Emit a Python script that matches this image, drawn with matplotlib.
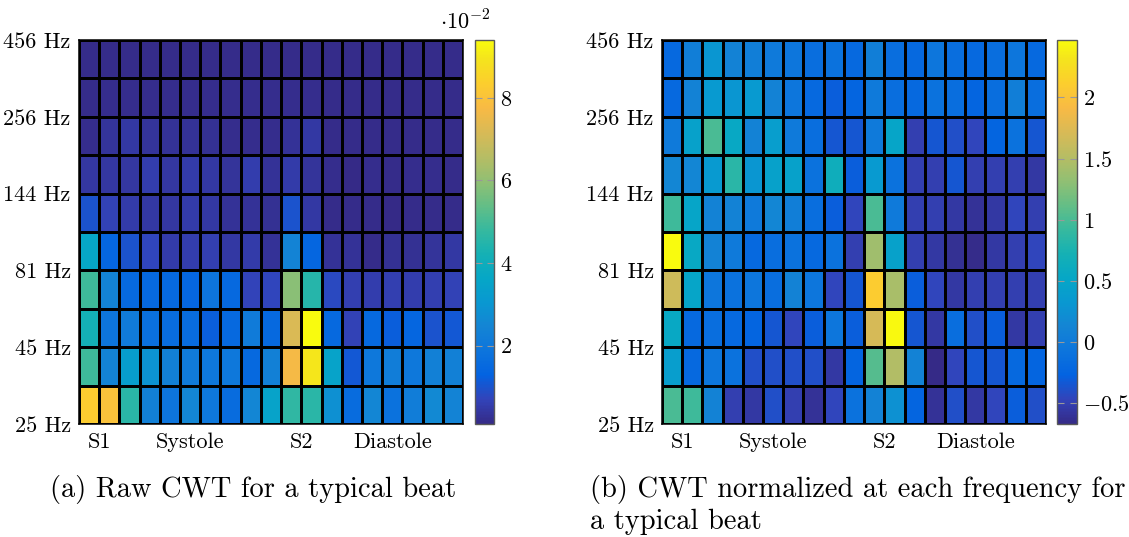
import numpy as np
import matplotlib
matplotlib.use('Agg')
import matplotlib.pyplot as plt
from matplotlib.colors import LinearSegmentedColormap

# data: rows listed from top (456 Hz) to bottom (25 Hz), 19 time bins each
freq_labels = ['25 Hz', '45 Hz', '81 Hz', '144 Hz', '256 Hz', '456 Hz']
phase_labels = ['S1', 'Systole', 'S2', 'Diastole']
phase_pos = [1, 5.5, 11, 15.5]

# raw CWT, units of 1e-2
raw_cwt = [
    [0.15, 0.15, 0.15, 0.15, 0.15, 0.15, 0.15, 0.15, 0.15, 0.15, 0.15, 0.15, 0.15, 0.15, 0.15, 0.15, 0.15, 0.15, 0.15],
    [0.15, 0.2, 0.2, 0.2, 0.2, 0.2, 0.2, 0.2, 0.2, 0.2, 0.2, 0.2, 0.15, 0.15, 0.15, 0.15, 0.15, 0.15, 0.15],
    [0.2, 0.35, 0.45, 0.35, 0.3, 0.3, 0.25, 0.2, 0.2, 0.2, 0.3, 0.45, 0.15, 0.15, 0.15, 0.15, 0.15, 0.15, 0.15],
    [0.4, 0.4, 0.4, 0.55, 0.4, 0.5, 0.45, 0.35, 0.55, 0.3, 0.5, 0.35, 0.2, 0.1, 0.2, 0.15, 0.2, 0.2, 0.15],
    [1.0, 0.65, 0.5, 0.45, 0.4, 0.5, 0.45, 0.3, 0.3, 0.25, 1.0, 0.45, 0.15, 0.15, 0.15, 0.1, 0.15, 0.15, 0.15],
    [3.6, 1.4, 1.0, 0.75, 0.5, 0.55, 0.6, 0.45, 0.5, 0.3, 2.4, 1.4, 0.3, 0.3, 0.15, 0.25, 0.25, 0.35, 0.45],
    [4.9, 2.4, 1.5, 1.5, 1.5, 1.4, 1.9, 1.5, 0.7, 0.75, 5.9, 4.5, 0.8, 0.6, 0.55, 0.6, 0.55, 0.6, 0.65],
    [4.2, 1.9, 2.1, 1.7, 1.6, 1.6, 1.2, 1.5, 2.1, 1.5, 7.2, 9.4, 1.5, 0.65, 1.5, 1.2, 1.4, 1.0, 1.1],
    [4.9, 2.4, 3.3, 2.9, 2.3, 2.1, 2.0, 2.0, 1.5, 2.3, 7.7, 9.0, 3.5, 1.1, 2.0, 2.2, 2.0, 2.3, 2.3],
    [8.3, 8.0, 4.6, 2.3, 1.9, 2.5, 2.0, 1.6, 2.5, 3.5, 4.7, 4.6, 2.8, 1.6, 2.5, 1.8, 2.2, 2.6, 2.4],
]

# CWT normalized per frequency
norm_cwt = [
    [-0.2, 0.05, 0.3, 0.1, 0.05, 0.0, -0.05, -0.15, -0.1, -0.2, 0.05, -0.15, -0.2, -0.05, -0.15, -0.2, -0.15, -0.05, -0.2],
    [-0.2, 0.1, 0.35, 0.3, 0.35, 0.1, -0.05, -0.2, -0.3, -0.25, 0.0, -0.15, -0.2, -0.1, -0.15, -0.25, -0.15, 0.05, -0.15],
    [0.0, 0.45, 1.0, 0.55, 0.1, 0.4, 0.0, -0.15, -0.35, -0.35, 0.0, 0.5, -0.5, -0.35, -0.4, -0.45, -0.25, -0.1, -0.35],
    [0.15, 0.15, 0.35, 0.85, 0.3, 0.45, 0.45, -0.1, 0.65, -0.3, 0.35, -0.1, -0.5, -0.5, -0.35, -0.5, -0.5, -0.5, -0.55],
    [0.95, 0.5, 0.1, 0.1, 0.0, 0.15, 0.05, -0.15, -0.3, -0.45, 1.0, 0.0, -0.5, -0.5, -0.55, -0.6, -0.55, -0.45, -0.5],
    [2.47, 0.55, 0.1, 0.0, -0.2, -0.15, -0.1, -0.2, -0.1, -0.5, 1.4, 0.45, -0.5, -0.55, -0.62, -0.65, -0.55, -0.5, -0.45],
    [1.65, 0.5, -0.05, -0.1, -0.05, -0.15, 0.1, -0.05, -0.45, -0.35, 2.1, 1.45, -0.3, -0.45, -0.55, -0.5, -0.5, -0.5, -0.5],
    [0.55, -0.2, -0.15, -0.2, -0.25, -0.35, -0.45, -0.3, -0.05, -0.3, 1.7, 2.45, -0.35, -0.55, -0.15, -0.4, -0.3, -0.55, -0.5],
    [0.4, -0.2, -0.05, -0.1, -0.4, -0.4, -0.4, -0.4, -0.55, -0.25, 1.05, 1.5, 0.1, -0.67, -0.45, -0.35, -0.35, -0.2, -0.25],
    [1.0, 0.95, 0.1, -0.5, -0.55, -0.4, -0.5, -0.6, -0.45, -0.1, 0.1, 0.25, -0.25, -0.6, -0.4, -0.55, -0.45, -0.3, -0.4],
]

# parula-like colormap
parula_pts = [
    (0.2081, 0.1663, 0.5292), (0.1959, 0.2645, 0.7279), (0.0117, 0.3875, 0.8820),
    (0.0498, 0.4586, 0.8641), (0.0793, 0.5200, 0.8312), (0.0343, 0.5966, 0.8199),
    (0.0228, 0.6535, 0.7768), (0.0843, 0.6928, 0.7062), (0.2178, 0.7250, 0.6193),
    (0.3953, 0.7459, 0.5244), (0.5709, 0.7485, 0.4494), (0.7184, 0.7411, 0.3905),
    (0.8507, 0.7299, 0.3360), (0.9739, 0.7314, 0.2666), (0.9880, 0.8066, 0.1794),
    (0.9589, 0.8949, 0.1132), (0.9763, 0.9831, 0.0538),
]
idx = [0, 4, 8, 12, 16, 20, 24, 28, 32, 36, 40, 44, 48, 52, 56, 60, 63]
parula = LinearSegmentedColormap.from_list('parula', [(i / 63, c) for i, c in zip(idx, parula_pts)])

plt.rcParams['font.family'] = 'cmr10'
plt.rcParams['mathtext.fontset'] = 'cm'
plt.rcParams['axes.unicode_minus'] = False

W, H = 1129, 537
fig = plt.figure(figsize=(W / 100, H / 100), dpi=100)


def px_axes(x0, y0, x1, y1):
    return fig.add_axes([x0 / W, 1 - y1 / H, (x1 - x0) / W, (y1 - y0) / H])


def draw_map(ax, cax, data, ticks, ticklabels):
    z = np.array(data)[::-1]
    m = ax.pcolormesh(np.arange(20), np.arange(11), z, cmap=parula,
                      vmin=z.min(), vmax=z.max(), edgecolors='k', linewidth=0.75)
    ax.set_xlim(0, 19)
    ax.set_ylim(0, 10)
    ax.set_yticks([0, 2, 4, 6, 8, 10])
    ax.set_yticklabels(freq_labels)
    ax.set_xticks(phase_pos)
    ax.set_xticklabels(phase_labels)
    ax.tick_params(length=0, labelsize=16, pad=6)
    for s in ax.spines.values():
        s.set_linewidth(1.1)
    cb = fig.colorbar(m, cax=cax)
    cb.set_ticks(ticks)
    cb.set_ticklabels(ticklabels)
    cb.outline.set_edgecolor('0.35')
    cb.outline.set_linewidth(1.0)
    cax.tick_params(direction='in', length=5, width=0.8, color='0.6',
                    left=True, right=True, labelsize=16, pad=4)
    return m


ax1 = px_axes(79, 40, 463, 424)
cax1 = px_axes(475, 40, 494, 424)
draw_map(ax1, cax1, raw_cwt, [2, 4, 6, 8], ['$2$', '$4$', '$6$', '$8$'])
fig.text(465 / W, 1 - 21 / H, r'$\cdot 10^{-2}$', fontsize=16, ha='center', va='center')

ax2 = px_axes(662, 40, 1046, 424)
cax2 = px_axes(1057, 40, 1077, 424)
draw_map(ax2, cax2, norm_cwt, [-0.5, 0, 0.5, 1, 1.5, 2],
         ['$-0.5$', '$0$', '$0.5$', '$1$', '$1.5$', '$2$'])

fig.text(50 / W, 1 - 490 / H, '(a) Raw CWT for a typical beat', fontsize=20.5, va='center')
fig.text(590 / W, 1 - 490 / H, '(b) CWT normalized at each frequency for', fontsize=20.5, va='center')
fig.text(590 / W, 1 - 522 / H, 'a typical beat', fontsize=20.5, va='center')

fig.savefig('out.png', dpi=100)
